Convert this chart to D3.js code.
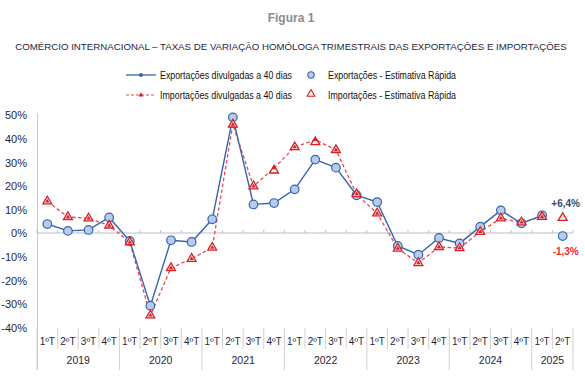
<!DOCTYPE html>
<html lang="pt">
<head>
<meta charset="utf-8">
<script src="https://cdn.jsdelivr.net/npm/d3@7"></script>
<style>
  body { margin: 0; background: #fff; }
  text { font-family: "Liberation Sans", "DejaVu Sans", sans-serif; }
</style>
</head>
<body>
<script>
  // quarters 2019 1ºT .. 2025 2ºT
  const years = ['2019', '2020', '2021', '2022', '2023', '2024', '2025']
  const quarterLabels = ['1ºT', '2ºT', '3ºT', '4ºT']
  const quartersPerYear = [4, 4, 4, 4, 4, 4, 2]

  // Exportações / Importações divulgadas a 40 dias (até 2025 1ºT)
  const exp40 = [3.8, 0.9, 1.3, 6.6, -3.4, -30.8, -3.1, -3.8, 5.8, 49.0, 12.1, 12.7,
                 18.5, 31.1, 27.7, 16.0, 13.1, -5.5, -9.2, -2.1, -4.4, 2.7, 9.6, 4.1, 7.5]
  const imp40 = [13.4, 6.8, 6.2, 3.2, -3.9, -34.9, -14.8, -10.9, -6.2, 46.0, 19.8, 27.5,
                 36.4, 39.5, 35.2, 16.5, 8.3, -6.6, -12.7, -5.9, -6.4, 0.5, 6.2, 4.5, 6.9]

  // Estimativa Rápida
  const expFlash = [3.8, 0.9, 1.3, 6.6, -3.4, -30.8, -3.1, -3.8, 5.8, 49.0, 12.1, 12.7,
                    18.5, 31.1, 27.7, 16.0, 13.1, -5.5, -9.2, -2.1, -4.4, 2.7, 9.6, 4.1, 7.5, -1.3]
  const impFlash = [13.4, 6.8, 6.2, 3.2, -3.9, -34.9, -14.8, -10.9, -6.2, 46.0, 19.8, 26.5,
                    36.4, 38.5, 35.2, 16.5, 8.3, -6.6, -12.7, -5.9, -6.4, 0.5, 6.2, 4.5, 6.9, 6.4]

  const yTicks = [-40, -30, -20, -10, 0, 10, 20, 30, 40, 50]

  const w = 585
  const h = 377
  const blue = '#3763AE'
  const blueFill = '#B7CCEA'
  const red = '#D61F26'
  const redLine = '#E5484D'
  const textCol = '#1F1F3A'

  const quarters = []
  years.forEach(function(yr, i) {
    for (let q = 0; q < quartersPerYear[i]; q++) quarters.push({year: yr, q: quarterLabels[q], key: yr + '-' + q})
  })
  const keys = quarters.map(function(d) { return d.key })

  const svg = d3.select('body')
    .append('svg')
    .attr('width', w)
    .attr('height', h)

  const x = d3.scaleBand().domain(keys).range([37, 573]).padding(0)
  const y = d3.scaleLinear().domain([-40, 50]).range([327.4, 115])
  const cx = function(i) { return x(keys[i]) + x.bandwidth() / 2 }

  // titles
  svg.append('text')
    .attr('x', 291).attr('y', 22)
    .attr('text-anchor', 'middle')
    .style('font-size', '12px').style('font-weight', 'bold').style('fill', '#8C8C8C')
    .text('Figura 1')
  svg.append('text')
    .attr('x', 291).attr('y', 50)
    .attr('text-anchor', 'middle')
    .style('font-size', '9.7px').style('fill', textCol)
    .text('COMÉRCIO INTERNACIONAL – TAXAS DE VARIAÇÃO HOMÓLOGA TRIMESTRAIS DAS EXPORTAÇÕES E IMPORTAÇÕES')

  // legend
  const leg = svg.append('g').style('font-size', '10px').style('fill', '#111')
  leg.append('line').attr('x1', 126).attr('x2', 156).attr('y1', 75).attr('y2', 75)
    .style('stroke', blue).style('stroke-width', 1.3)
  leg.append('circle').attr('cx', 141).attr('cy', 75).attr('r', 2).style('fill', blue)
  leg.append('text').attr('x', 160).attr('y', 79).attr('textLength', 132).attr('lengthAdjust', 'spacingAndGlyphs')
    .text('Exportações divulgadas a 40 dias')
  leg.append('circle').attr('cx', 311).attr('cy', 75).attr('r', 3.2)
    .style('fill', blueFill).style('stroke', blue).style('stroke-width', 1.1)
  leg.append('text').attr('x', 328).attr('y', 79).attr('textLength', 128).attr('lengthAdjust', 'spacingAndGlyphs')
    .text('Exportações - Estimativa Rápida')

  leg.append('line').attr('x1', 126).attr('x2', 156).attr('y1', 95).attr('y2', 95)
    .style('stroke', redLine).style('stroke-width', 1.2).style('stroke-dasharray', '3,2')
  leg.append('path').attr('d', d3.symbol(d3.symbolTriangle, 10)()).attr('transform', 'translate(141,95)')
    .style('fill', red)
  leg.append('text').attr('x', 160).attr('y', 99).attr('textLength', 132).attr('lengthAdjust', 'spacingAndGlyphs')
    .text('Importações divulgadas a 40 dias')
  leg.append('path').attr('d', d3.symbol(d3.symbolTriangle, 26)()).attr('transform', 'translate(311,94)')
    .style('fill', '#FDEDED').style('stroke', red).style('stroke-width', 1.1)
  leg.append('text').attr('x', 328).attr('y', 99).attr('textLength', 128).attr('lengthAdjust', 'spacingAndGlyphs')
    .text('Importações - Estimativa Rápida')

  // y axis labels
  const yAxis = d3.axisLeft(y).tickValues(yTicks).tickSize(0).tickPadding(0)
    .tickFormat(function(d) { return d + '%' })
  svg.append('g')
    .attr('transform', 'translate(27,0)')
    .call(yAxis)
    .call(function(g) { g.select('.domain').remove() })
    .selectAll('text')
    .attr('dy', '0.35em')
    .style('font-size', '11px').style('fill', textCol)
    .style('font-family', '"Liberation Sans", sans-serif')

  // left axis line and category area
  svg.append('line').attr('x1', 37.5).attr('x2', 37.5).attr('y1', 113).attr('y2', 370)
    .style('stroke', '#C8C8C8')

  const bounds = keys.map(function(k) { return x(k) }).concat([x.range()[1]])
  // zero line with small ticks
  svg.append('line').attr('x1', 37).attr('x2', 573).attr('y1', y(0)).attr('y2', y(0))
    .style('stroke', '#BFBFBF').style('stroke-width', 1.2)
  svg.selectAll('.ztick').data(bounds).enter().append('line')
    .attr('x1', function(d) { return d }).attr('x2', function(d) { return d })
    .attr('y1', y(0) - 3).attr('y2', y(0))
    .style('stroke', '#BFBFBF')

  // quarter separators and year separators
  let yearStart = 0
  const yearBounds = [0]
  quartersPerYear.forEach(function(n) { yearStart += n; yearBounds.push(yearStart) })
  svg.selectAll('.qsep').data(bounds).enter().append('line')
    .attr('x1', function(d) { return d }).attr('x2', function(d) { return d })
    .attr('y1', 328).attr('y2', function(d, i) { return yearBounds.indexOf(i) >= 0 ? 370 : 349 })
    .style('stroke', '#D0D0D0')

  svg.selectAll('.qlab').data(quarters).enter().append('text')
    .attr('x', function(d, i) { return cx(i) }).attr('y', 345)
    .attr('text-anchor', 'middle')
    .style('font-size', '10px').style('fill', textCol)
    .text(function(d) { return d.q })

  svg.selectAll('.ylab').data(years).enter().append('text')
    .attr('x', function(d, i) { return (bounds[yearBounds[i]] + bounds[yearBounds[i + 1]]) / 2 })
    .attr('y', 364)
    .attr('text-anchor', 'middle')
    .style('font-size', '10.5px').style('fill', textCol)
    .text(function(d) { return d })

  // lines
  const line = d3.line().x(function(d, i) { return cx(i) }).y(function(d) { return y(d) })
  svg.append('path').datum(imp40).attr('d', line)
    .style('fill', 'none').style('stroke', redLine).style('stroke-width', 1.3).style('stroke-dasharray', '3.5,2.5')
  svg.append('path').datum(exp40).attr('d', line)
    .style('fill', 'none').style('stroke', blue).style('stroke-width', 1.4)

  // small markers of the 40-day exports (hidden under the flash circles)
  svg.selectAll('.m40e').data(exp40).enter().append('circle')
    .attr('cx', function(d, i) { return cx(i) }).attr('cy', function(d) { return y(d) })
    .attr('r', 2).style('fill', blue)

  // Estimativa Rápida markers
  svg.selectAll('.fe').data(expFlash).enter().append('circle')
    .attr('cx', function(d, i) { return cx(i) }).attr('cy', function(d) { return y(d) })
    .attr('r', 4.3)
    .style('fill', blueFill).style('stroke', blue).style('stroke-width', 1.2)
  svg.selectAll('.fi').data(impFlash).enter().append('path')
    .attr('d', d3.symbol(d3.symbolTriangle, 34)())
    .attr('transform', function(d, i) { return 'translate(' + cx(i) + ',' + y(d) + ')' })
    .style('fill', '#FCE9E9').style('stroke', red).style('stroke-width', 1.3)

  // small markers of the 40-day imports, visible inside the triangles
  svg.selectAll('.m40i').data(imp40).enter().append('path')
    .attr('d', d3.symbol(d3.symbolTriangle, 8)())
    .attr('transform', function(d, i) { return 'translate(' + cx(i) + ',' + y(d) + ')' })
    .style('fill', red)

  // last value labels
  const last = keys.length - 1
  svg.append('text')
    .attr('x', cx(last) + 3).attr('y', y(impFlash[last]) - 11)
    .attr('text-anchor', 'middle')
    .style('font-size', '10px').style('font-weight', 'bold').style('fill', '#3A4A6B')
    .text('+6,4%')
  svg.append('text')
    .attr('x', cx(last) + 3).attr('y', y(expFlash[last]) + 19)
    .attr('text-anchor', 'middle')
    .style('font-size', '10px').style('font-weight', 'bold').style('fill', '#F0282D')
    .text('-1,3%')
</script>
</body>
</html>
